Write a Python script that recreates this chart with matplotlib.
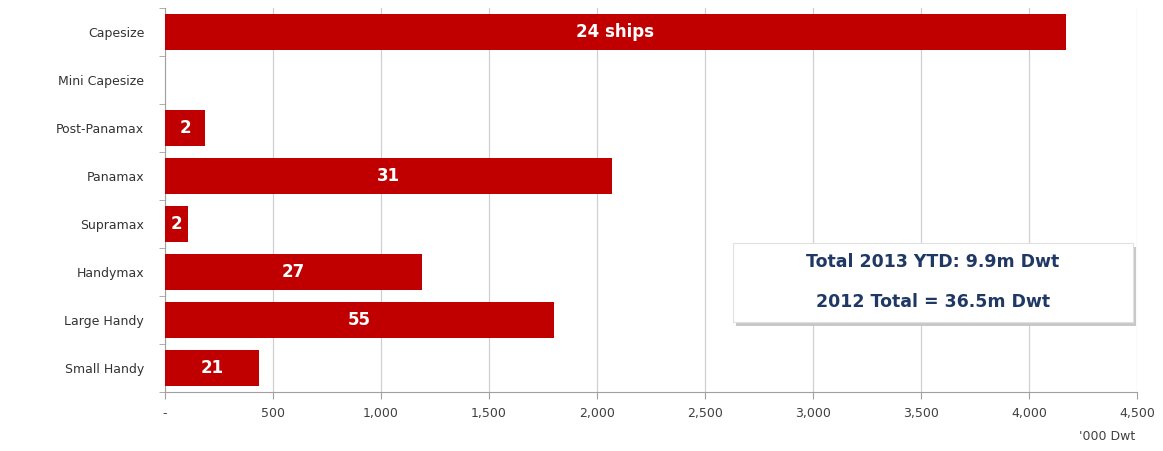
import matplotlib.pyplot as plt
from matplotlib.patches import FancyBboxPatch

categories = ['Capesize', 'Mini Capesize', 'Post-Panamax', 'Panamax',
              'Supramax', 'Handymax', 'Large Handy', 'Small Handy']
dwt = [4170, 0, 185, 2070, 106, 1190, 1800, 437]
ship_labels = ['24 ships', '', '2', '31', '2', '27', '55', '21']
xticks = [0, 500, 1000, 1500, 2000, 2500, 3000, 3500, 4000, 4500]
xtick_labels = ['-', '500', '1,000', '1,500', '2,000', '2,500',
                '3,000', '3,500', '4,000', '4,500']

fig = plt.figure(figsize=(11.63, 4.51), dpi=100)
ax = fig.add_axes([165 / 1163, 1 - 392 / 451, (1137 - 165) / 1163, 384 / 451])

y = list(range(len(categories)))
ax.barh(y, dwt, height=0.77, color='#C00000', zorder=3)
ax.set_ylim(len(categories) - 0.5, -0.5)
ax.set_xlim(0, 4500)

for yi, v, lab in zip(y, dwt, ship_labels):
    if lab:
        ax.text(v / 2, yi, lab, ha='center', va='center', color='white',
                fontsize=12, fontweight='bold', zorder=4)

ax.set_yticks(y)
ax.set_yticklabels(categories, fontsize=9, color='#333333')
ax.set_xticks(xticks)
ax.set_xticklabels(xtick_labels, fontsize=9, color='#404040')
ax.tick_params(axis='y', length=0, pad=15)
ax.tick_params(axis='x', length=5, color='#a0a0a0', direction='out', pad=6)
# small marks between categories on the y axis
ax.set_yticks([i + 0.5 for i in range(-1, len(categories))], minor=True)
ax.tick_params(axis='y', which='minor', length=4, color='#a0a0a0')

ax.grid(axis='x', color='#d0d0d0', linewidth=0.9, zorder=0)
for s in ['top', 'right']:
    ax.spines[s].set_visible(False)
ax.spines['left'].set_color('#a0a0a0')
ax.spines['bottom'].set_color('#a0a0a0')

fig.text(1135 / 1163, 1 - 437 / 451, "'000 Dwt", ha='right', va='center',
         fontsize=9, color='#404040')

# summary box with shadow
bx, by, bw, bh = 733 / 1163, 1 - 322 / 451, 400 / 1163, 79 / 451
shadow = FancyBboxPatch((bx + 0.003, by - 0.008), bw, bh, boxstyle='square,pad=0',
                        transform=fig.transFigure, facecolor='#c8c8c8',
                        edgecolor='none', zorder=5)
box = FancyBboxPatch((bx, by), bw, bh, boxstyle='square,pad=0',
                     transform=fig.transFigure, facecolor='white',
                     edgecolor='#e0e0e0', linewidth=0.8, zorder=6)
fig.patches.extend([shadow, box])
fig.text(bx + bw / 2, 1 - 262 / 451, 'Total 2013 YTD: 9.9m Dwt', ha='center',
         va='center', fontsize=12.5, fontweight='bold', color='#1F3864', zorder=7)
fig.text(bx + bw / 2, 1 - 302 / 451, '2012 Total = 36.5m Dwt', ha='center',
         va='center', fontsize=12.5, fontweight='bold', color='#1F3864', zorder=7)

plt.savefig('out.png', dpi=100)
